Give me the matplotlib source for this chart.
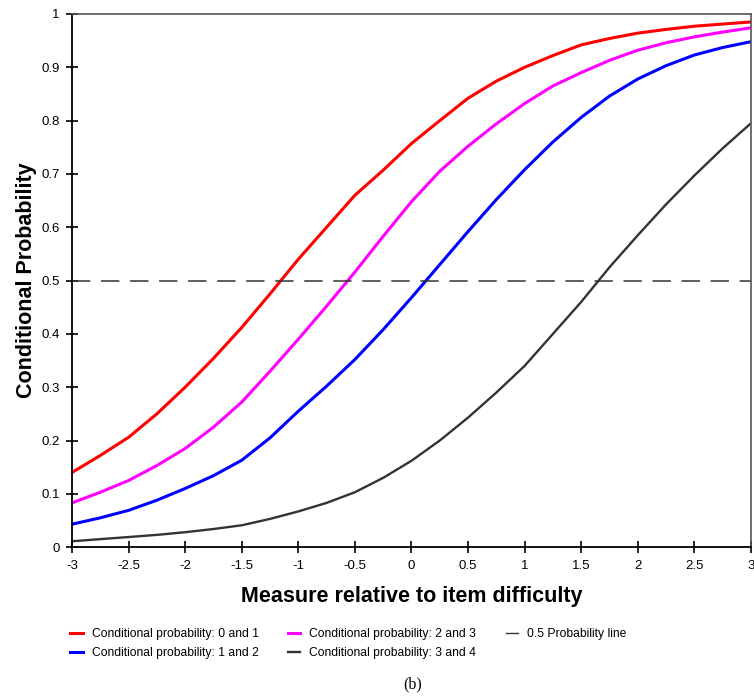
import numpy as np
import matplotlib.pyplot as plt

plt.rcParams['font.family'] = ['Liberation Sans', 'DejaVu Sans']

# measures
x = [-3, -2.75, -2.5, -2.25, -2, -1.75, -1.5, -1.25, -1, -0.75, -0.5, -0.25,
     0, 0.25, 0.5, 0.75, 1, 1.25, 1.5, 1.75, 2, 2.25, 2.5, 2.75, 3]

p01 = [0.14, 0.172, 0.206, 0.25, 0.30, 0.354, 0.412, 0.475, 0.54, 0.60, 0.66, 0.707,
       0.757, 0.80, 0.842, 0.874, 0.90, 0.922, 0.942, 0.954, 0.964, 0.971, 0.977, 0.981, 0.985]
p12 = [0.043, 0.055, 0.069, 0.088, 0.11, 0.134, 0.163, 0.205, 0.255, 0.302, 0.352, 0.408,
       0.468, 0.53, 0.592, 0.652, 0.708, 0.76, 0.806, 0.846, 0.878, 0.903, 0.923, 0.937, 0.948]
p23 = [0.083, 0.103, 0.125, 0.153, 0.185, 0.225, 0.272, 0.33, 0.39, 0.452, 0.516, 0.583,
       0.648, 0.705, 0.752, 0.794, 0.832, 0.865, 0.89, 0.913, 0.932, 0.946, 0.957, 0.966, 0.974]
p34 = [0.011, 0.015, 0.019, 0.023, 0.028, 0.034, 0.041, 0.053, 0.067, 0.083, 0.103, 0.13,
       0.162, 0.20, 0.243, 0.29, 0.34, 0.40, 0.46, 0.525, 0.585, 0.643, 0.697, 0.748, 0.795]

labels = ['Conditional probability: 0 and 1', 'Conditional probability: 1 and 2',
          'Conditional probability: 2 and 3', 'Conditional probability: 3 and 4']

fig = plt.figure(figsize=(7.54, 6.97), dpi=100)
ax = fig.add_axes([0.0955, 0.215, 0.9005, 0.765])

h1, = ax.plot(x, p01, color='#ff0000', lw=2.2, label=labels[0])
h2, = ax.plot(x, p12, color='#0000ff', lw=2.2, label=labels[1])
h3, = ax.plot(x, p23, color='#ff00ff', lw=2.2, label=labels[2])
h4, = ax.plot(x, p34, color='#333333', lw=1.7, label=labels[3])
ax.axhline(0.5, color='#333333', lw=1.1, dashes=(12, 7))
h5, = ax.plot([], [], color='#333333', lw=1.0, label='0.5 Probability line')

ax.set_xlim(-3, 3)
ax.set_ylim(0, 1)
ax.set_xticks(np.arange(-3, 3.01, 0.5))
ax.set_xticklabels(['-3', '-2.5', '-2', '-1.5', '-1', '-0.5', '0', '0.5', '1', '1.5', '2', '2.5', '3'])
ax.set_yticks(np.arange(0, 1.01, 0.1))
ax.set_yticklabels(['0', '0.1', '0.2', '0.3', '0.4', '0.5', '0.6', '0.7', '0.8', '0.9', '1'])
ax.tick_params(direction='inout', length=8, width=1.2, labelsize=9.5, pad=5)

for s in ['left', 'bottom']:
    ax.spines[s].set_color('black')
    ax.spines[s].set_linewidth(1.3)
for s in ['top', 'right']:
    ax.spines[s].set_color('#555555')
    ax.spines[s].set_linewidth(1.2)

ax.set_xlabel('Measure relative to item difficulty', fontsize=15.5, fontweight='bold', labelpad=10)
ax.set_ylabel('Conditional Probability', fontsize=15.5, fontweight='bold', labelpad=3)

fig.legend(handles=[h1, h2, h3, h4, h5], ncol=3, loc='upper left',
           bbox_to_anchor=(0.079, 0.114), frameon=False, fontsize=8.7,
           handlelength=1.0, handletextpad=0.75, columnspacing=2.45, labelspacing=0.55)

fig.text(0.547, 0.012, '(b)', fontsize=11.5, family='Liberation Serif', ha='center')

fig.savefig('out.png', dpi=100)
